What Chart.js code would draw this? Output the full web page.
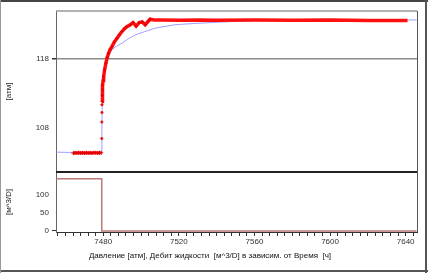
<!DOCTYPE html>
<html>
<head>
<meta charset="utf-8">
<script src="https://cdn.jsdelivr.net/npm/chart.js@4"></script>
<style>
  html, body { margin: 0; padding: 0; background: #fff; }
  #wrap { position: relative; width: 428px; height: 273px; }
</style>
</head>
<body>
<div id="wrap"><canvas id="chart" width="428" height="273"></canvas></div>
<script>
// pressure before the rate change (atm)
const flatTime = [7464.2, 7465, 7466, 7467, 7468, 7469, 7470, 7471, 7472, 7473, 7474, 7475, 7476, 7477, 7478, 7478.9];
const flatP    = [104.25, 104.3, 104.28, 104.32, 104.27, 104.3, 104.26, 104.31, 104.29, 104.3, 104.27, 104.32, 104.3, 104.28, 104.31, 104.3];
// sparse dots on the jump
const jumpTime = [7479.2, 7479.25, 7479.3, 7479.3];
const jumpP    = [106.4, 108.8, 110.2, 111.3];
// build-up
const riseTime = [7479.35, 7479.45, 7479.6, 7479.75, 7480.0, 7480.2, 7480.7, 7481.4, 7482.1, 7482.8, 7483.7, 7484.6, 7485.9, 7487.2, 7488.5, 7489.9, 7491.2, 7492.5, 7494.3, 7495.8, 7497.4, 7499.0, 7500.6, 7502.2, 7503.8, 7504.8, 7507, 7510, 7520, 7530, 7540, 7560, 7580, 7600, 7620, 7641];
const riseP    = [111.8, 112.7, 113.5, 114.2, 114.9, 115.4, 116.4, 117.4, 118.2, 118.8, 119.4, 119.8, 120.5, 121.0, 121.5, 122.0, 122.4, 122.7, 123.0, 123.3, 122.8, 123.3, 123.4, 123.0, 123.5, 123.8, 123.7, 123.7, 123.65, 123.7, 123.65, 123.7, 123.65, 123.7, 123.6, 123.6];
// model curve
const modelTime = [7455.2, 7479.2, 7479.3, 7479.6, 7480.2, 7481.4, 7482.6, 7484.5, 7486.3, 7489.9, 7493, 7496.9, 7502, 7507.5, 7518, 7529.5, 7547, 7564.5, 7600, 7645.8];
const modelP    = [104.4, 104.25, 108.5, 112.5, 115.3, 117.3, 118.6, 119.3, 119.75, 120.3, 120.9, 121.5, 122.0, 122.5, 123.0, 123.2, 123.45, 123.6, 123.7, 123.7];
// liquid rate (m^3/D)
const rateTime = [7455.2, 7479.2, 7479.2, 7645.8];
const rateQ    = [144, 144, 0, 0];

const xLabelTicks = [7480, 7520, 7560, 7600, 7640];
const pTickLabels = [108, 118];
const pMinorTicks = [113, 115, 116, 117];
const qTickLabels = [0, 50, 100];

const pts = (xs, ys) => xs.map((x, i) => ({ x: x, y: ys[i] }));
const FONT = { family: 'Liberation Sans', size: 8, weight: 'normal' };

const framePlugin = {
  id: 'frame',
  beforeDraw(chart) {
    const ctx = chart.ctx;
    ctx.save();
    ctx.fillStyle = '#fff';
    ctx.fillRect(0, 0, chart.width, chart.height);
    ctx.restore();
  },
  afterDraw(chart) {
    const { ctx, chartArea: a, scales } = chart;
    ctx.save();
    ctx.lineWidth = 1.5;
    ctx.strokeStyle = '#9a9a9a';
    ctx.beginPath(); ctx.moveTo(a.left, a.top); ctx.lineTo(a.right, a.top); ctx.stroke();
    ctx.lineWidth = 1;
    ctx.strokeStyle = '#555';
    ctx.beginPath(); ctx.moveTo(a.right + 0.5, a.top); ctx.lineTo(a.right + 0.5, a.bottom); ctx.stroke();
    ctx.lineWidth = 2;
    ctx.strokeStyle = '#222';
    ctx.beginPath(); ctx.moveTo(a.left, scales.y.bottom); ctx.lineTo(a.right, scales.y.bottom); ctx.stroke();
    // outer frame
    ctx.strokeStyle = '#444';
    ctx.beginPath(); ctx.moveTo(0, 1); ctx.lineTo(chart.width, 1); ctx.stroke();
    ctx.strokeStyle = '#555';
    ctx.beginPath(); ctx.moveTo(chart.width - 2, 0); ctx.lineTo(chart.width - 2, chart.height); ctx.stroke();
    ctx.beginPath(); ctx.moveTo(0, chart.height - 2); ctx.lineTo(chart.width, chart.height - 2); ctx.stroke();
    ctx.lineWidth = 1;
    ctx.strokeStyle = '#999';
    ctx.beginPath(); ctx.moveTo(0.5, 0); ctx.lineTo(0.5, chart.height); ctx.stroke();
    ctx.restore();
  }
};

new Chart(document.getElementById('chart'), {
  type: 'line',
  data: {
    datasets: [
      { data: pts(riseTime, riseP), yAxisID: 'y', borderColor: '#ff1010', backgroundColor: '#ff1010', borderWidth: 3.5,
        pointStyle: 'cross', pointRadius: c => c.raw && c.raw.x > 7505 ? 0 : 1.5,
        pointBorderWidth: 1, pointBorderColor: '#e00000', order: 0 },
      { data: pts(flatTime, flatP), yAxisID: 'y', borderColor: '#ff1010', borderWidth: 3,
        pointStyle: 'cross', pointRadius: 2, pointBorderWidth: 1, pointBorderColor: '#e00000', order: 0 },
      { data: pts(jumpTime, jumpP), yAxisID: 'y', showLine: false,
        pointStyle: 'cross', pointRadius: 1.5, pointBorderWidth: 1.5, pointBorderColor: '#e81010', order: 0 },
      { data: pts(modelTime, modelP), yAxisID: 'y', borderColor: '#a0a0ff', borderWidth: 1, pointRadius: 0, order: 1 },
      { data: pts(rateTime, rateQ), yAxisID: 'y2', borderColor: '#b87a78', borderWidth: 1.5, pointRadius: 0, order: 2 }
    ]
  },
  options: {
    responsive: false,
    animation: false,
    devicePixelRatio: 1,
    layout: { padding: { left: 3, right: 11, top: 11, bottom: 8 } },
    plugins: {
      legend: { display: false },
      tooltip: { enabled: false },
      title: {
        display: true, position: 'bottom', color: '#111',
        text: 'Давление [атм], Дебит жидкости  [м^3/D] в зависим. от Время  [ч]',
        font: FONT, padding: { top: 0, bottom: 4 }
      }
    },
    scales: {
      x: {
        type: 'linear', min: 7455, max: 7646,
        afterFit: s => { s.height = 19.4; },
        afterBuildTicks: s => {
          const t = [];
          for (let v = 7456; v <= 7644; v += 4) t.push({ value: v });
          s.ticks = t;
        },
        ticks: {
          autoSkip: false, maxRotation: 0, padding: 1, color: '#333', font: FONT,
          callback: v => xLabelTicks.includes(v) ? String(v) : ''
        },
        grid: { drawOnChartArea: false, tickLength: 4, tickColor: '#333' },
        border: { color: '#333', width: 1 }
      },
      y2: {
        type: 'linear', position: 'left', stack: 'panel', stackWeight: 60,
        min: -3, max: 163,
        afterFit: s => { s.width = 53; },
        afterBuildTicks: s => { s.ticks = qTickLabels.map(v => ({ value: v })); },
        ticks: { color: '#333', font: FONT, padding: 3 },
        grid: {
          drawOnChartArea: false, tickLength: 4,
          tickColor: c => c.tick && c.tick.value === 0 ? '#333' : 'transparent'
        },
        border: { color: '#666', width: 1 },
        title: { display: true, text: '[м^3/D]', color: '#222', font: FONT, padding: { top: 1, bottom: 0 } }
      },
      y: {
        type: 'linear', position: 'left', stack: 'panel', stackWeight: 161,
        min: 101.5, max: 125,
        afterFit: s => { s.width = 53; },
        afterBuildTicks: s => { s.ticks = pTickLabels.concat(pMinorTicks).map(v => ({ value: v })); },
        ticks: { color: '#333', font: FONT, padding: 3, callback: v => pTickLabels.includes(v) ? String(v) : '' },
        grid: {
          tickLength: 4,
          color: c => c.tick && c.tick.value === 118 ? '#8c8c8c' : 'transparent',
          lineWidth: c => c.tick && c.tick.value === 118 ? 1.5 : 0,
          tickColor: c => c.tick && c.tick.value === 108 ? 'transparent' : '#333'
        },
        border: { color: '#666', width: 1 },
        title: { display: true, text: '[атм]', color: '#222', font: FONT, padding: { top: 1, bottom: 0 } }
      }
    }
  },
  plugins: [framePlugin]
});
</script>
</body>
</html>
